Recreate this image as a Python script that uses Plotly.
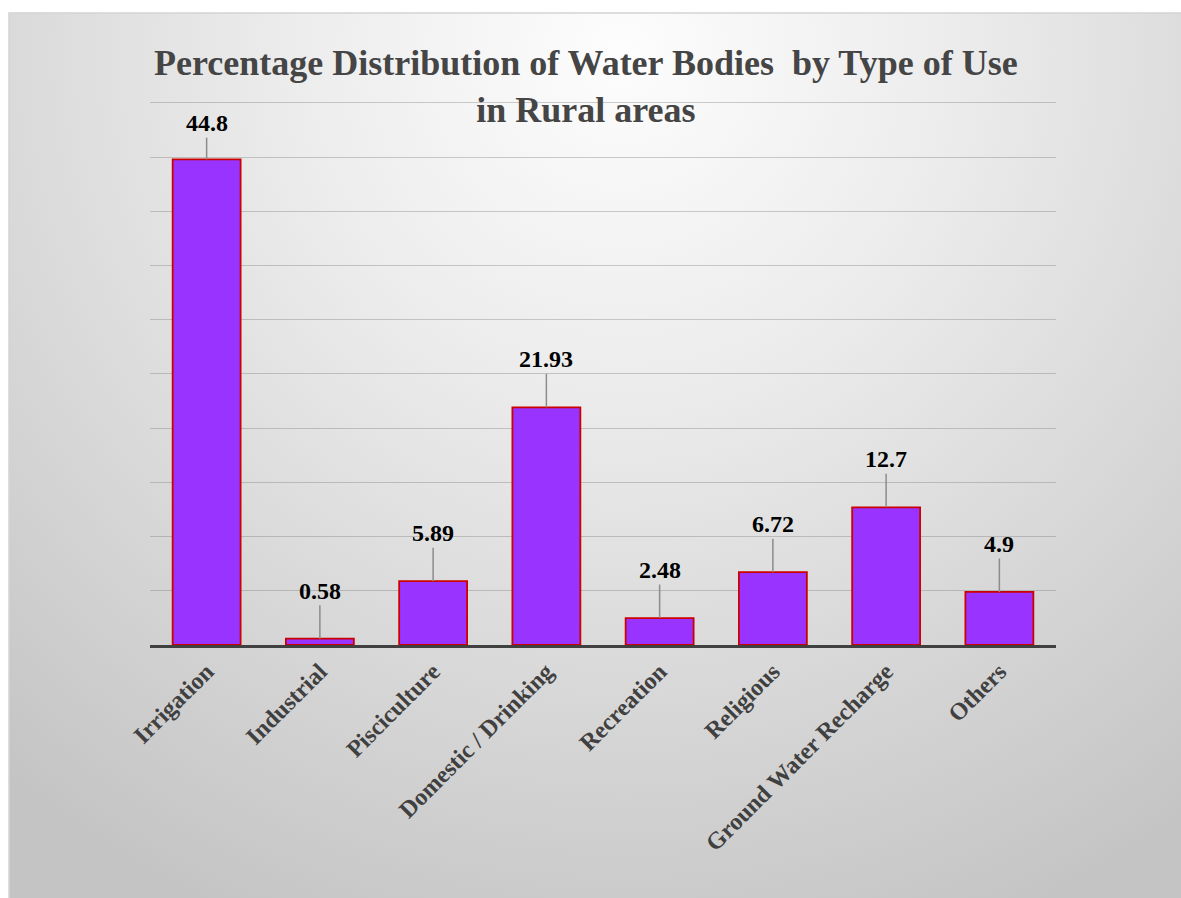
import base64
import plotly.graph_objects as go

categories = ["Irrigation", "Industrial", "Pisciculture", "Domestic / Drinking",
              "Recreation", "Religious", "Ground Water Recharge", "Others"]
values = [44.8, 0.58, 5.89, 21.93, 2.48, 6.72, 12.7, 4.9]
value_labels = ["44.8", "0.58", "5.89", "21.93", "2.48", "6.72", "12.7", "4.9"]

W, H = 1181, 898
OFF = 0
SERIF = "Liberation Serif, DejaVu Serif, serif"


def px(x):
    return (x - OFF) / W


def py(y):
    return 1 - (y - OFF) / H


svg = f'''<svg xmlns="http://www.w3.org/2000/svg" width="{W}" height="{H}" viewBox="0 0 {W} {H}" preserveAspectRatio="none">
<defs><radialGradient id="g" gradientUnits="userSpaceOnUse" cx="600" cy="40" r="930">
<stop offset="0" stop-color="#fdfdfd"/><stop offset="0.35" stop-color="#ececec"/>
<stop offset="1" stop-color="#c4c4c4"/></radialGradient></defs>
<rect x="0" y="0" width="{W}" height="{H}" fill="url(#g)"/></svg>'''
src = "data:image/svg+xml;base64," + base64.b64encode(svg.encode()).decode()

fig = go.Figure()
fig.add_trace(go.Bar(
    x=categories, y=values,
    marker=dict(color="#9933FF", line=dict(color="#CC0000", width=1.8)),
    hoverinfo="x+y",
))

YMAX = 50.1
fig.update_layout(
    width=W, height=H,
    margin=dict(l=0, r=0, t=0, b=0, autoexpand=False),
    paper_bgcolor="white", plot_bgcolor="rgba(0,0,0,0)",
    showlegend=False, bargap=0.4,
    xaxis=dict(domain=[px(150), px(1056)], showline=True, linecolor="#404040", linewidth=3,
               ticks="", tickangle=-45, showgrid=False,
               tickfont=dict(family=SERIF, size=24, color="#404040", weight="bold")),
    yaxis=dict(domain=[py(645), py(645 - 542 * YMAX / 50)], range=[0, YMAX], dtick=5,
               showticklabels=False, showgrid=True, gridcolor="rgba(120,120,120,0.36)",
               gridwidth=1, zeroline=False, showline=False),
    images=[dict(source=src, xref="paper", yref="paper", x=px(9), y=py(13),
                 sizex=1.02, sizey=1.02, xanchor="left", yanchor="top",
                 sizing="stretch", layer="below")],
    shapes=[dict(type="rect", xref="paper", yref="paper", x0=px(9), y0=-0.02, x1=1.02, y1=py(13),
                 line=dict(color="#d4d4d4", width=1.5), fillcolor="rgba(0,0,0,0)", layer="below")],
)

fig.add_annotation(
    text="<b>Percentage Distribution of Water Bodies  by Type of Use<br>in Rural areas</b>",
    xref="paper", yref="paper", x=px(586), y=py(41), xanchor="center", yanchor="top",
    showarrow=False, font=dict(family=SERIF, size=36, color="#454545"),
)

for i, (c, v, t) in enumerate(zip(categories, values, value_labels)):
    fig.add_annotation(
        x=c, y=v, text=f"<b>{t}</b>", showarrow=True, arrowhead=0,
        arrowcolor="#8c8c8c", arrowwidth=1.5, ax=0, ay=-36 if i == 0 else -48,
        standoff=0, font=dict(family=SERIF, size=24, color="#000000"),
    )

fig.write_html(
    "out.html",
    config={"displayModeBar": False},
    post_script="document.body.style.margin='0';document.body.style.overflow='hidden';",
)
